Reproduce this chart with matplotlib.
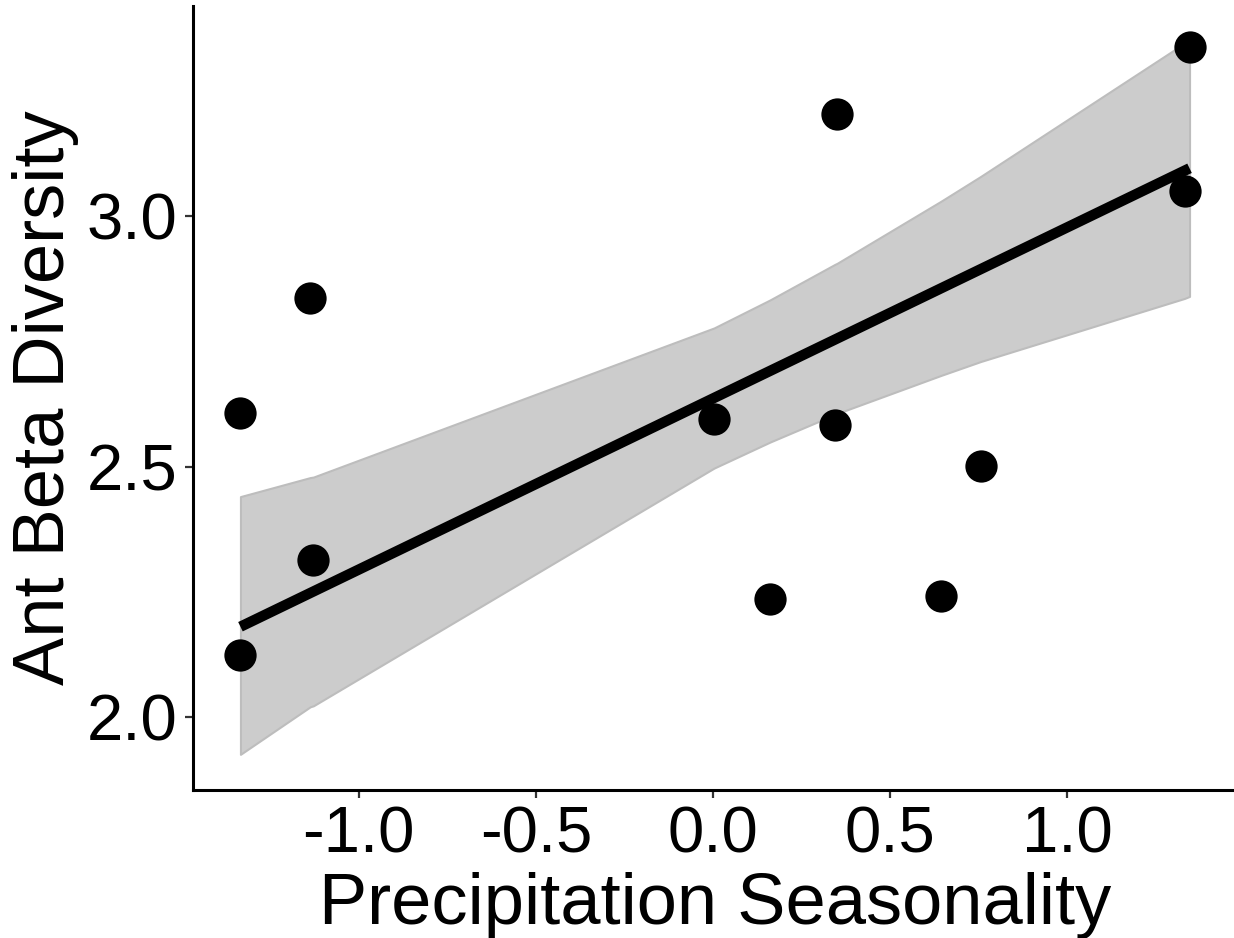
import numpy as np
import matplotlib
matplotlib.use("Agg")
import matplotlib.pyplot as plt

plt.rcParams['font.family'] = ['Liberation Sans', 'DejaVu Sans']

# observed sites (standardised precipitation seasonality vs beta diversity)
precip = np.array([-1.334, -1.334, -1.137, -1.128, 0.003, 0.161,
                   0.350, 0.344, 0.643, 0.756, 1.345, 1.331])
beta = np.array([2.124, 2.608, 2.836, 2.314, 2.596, 2.236,
                 3.204, 2.584, 2.242, 2.502, 3.338, 3.050])

# model fit and confidence band
fit_x = np.array([-1.334, 1.345])
fit_y = np.array([2.180, 3.096])
band_x = np.array([-1.334, -1.137, -1.128, 0.003, 0.161, 0.344,
                   0.350, 0.643, 0.756, 1.331, 1.345])
band_hi = np.array([2.440, 2.478, 2.479, 2.777, 2.833, 2.904,
                    2.906, 3.030, 3.080, 3.346, 3.350])
band_lo = np.array([1.925, 2.020, 2.022, 2.497, 2.549, 2.604,
                    2.606, 2.682, 2.710, 2.836, 2.840])

fig = plt.figure(figsize=(12.34, 9.38), dpi=100)
ax = fig.add_axes([193/1234, 148/938, (1237-193)/1234, (790-5.5)/938])

ax.fill_between(band_x, band_lo, band_hi, facecolor='#cccccc',
                edgecolor='#bdbdbd', linewidth=1.5, zorder=1)
ax.plot(fit_x, fit_y, color='black', linewidth=7.5, solid_capstyle='butt', zorder=2)
ax.scatter(precip, beta, s=540, color='black', linewidths=0, zorder=3)

# ggplot-like 5% expansion
xr = precip.max() - precip.min()
ax.set_xlim(precip.min() - 0.05*xr, precip.max() + 0.05*xr)
ylo = min(band_lo.min(), beta.min())
yhi = max(band_hi.max(), beta.max())
yr = yhi - ylo
ax.set_ylim(ylo - 0.05*yr, yhi + 0.05*yr)

ax.set_xticks([-1.0, -0.5, 0.0, 0.5, 1.0])
ax.set_xticklabels(['-1.0', '-0.5', '0.0', '0.5', '1.0'])
ax.set_yticks([2.0, 2.5, 3.0])
ax.set_yticklabels(['2.0', '2.5', '3.0'])

for s in ['top', 'right']:
    ax.spines[s].set_visible(False)
for s in ['left', 'bottom']:
    ax.spines[s].set_linewidth(2.2)
ax.tick_params(length=5.5, width=1.6, color='#333333', labelsize=47,
               labelcolor='black', pad=6)

ax.set_xlabel('Precipitation Seasonality', fontsize=52, labelpad=4)
ax.set_ylabel('Ant Beta Diversity', fontsize=52, labelpad=5)

fig.savefig('out.png', dpi=100)
